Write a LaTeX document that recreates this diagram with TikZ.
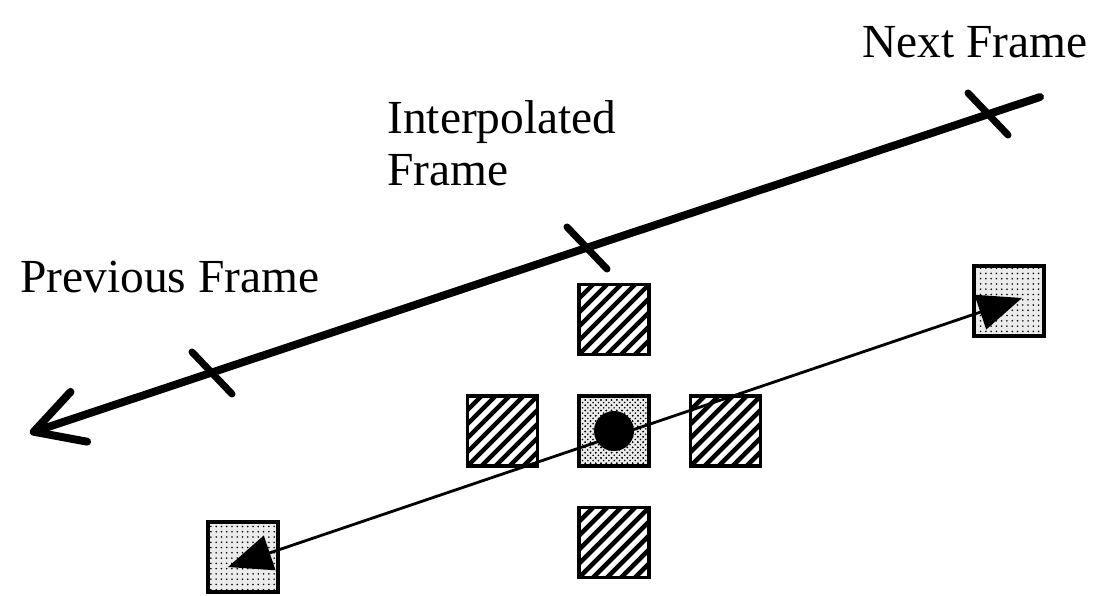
\documentclass[tikz,border=0pt]{standalone}
\usepackage{fontspec}
\setmainfont{Liberation Serif}
\usetikzlibrary{arrows.meta, positioning, patterns}

\begin{document}
\begin{tikzpicture}[
    % ── Global ──
    x=0.2mm, y=-0.2mm,
    node distance=0.76cm,
    % ── Node Styles ──
    caption/.style={
        font=\fontsize{27}{29.5}\selectfont, inner sep=0pt
    },
    hatchbox/.style={
        rectangle, draw=black, line width=2pt,
        minimum size=1.4cm, inner sep=0pt, fill=white,
        path picture={
            \foreach \s in {-70,-56,...,70}
                \draw[line width=2.6pt]
                    ([xshift=\s*0.2mm]path picture bounding box.south west) -- ++(70,-70);
        }
    },
    dotbox/.style={
        rectangle, draw=black, line width=2pt,
        minimum size=1.4cm, inner sep=0pt,
        fill=black!8, postaction={pattern=dots}
    },
    centerbox/.style={
        dotbox, postaction={pattern=crosshatch dots}
    },
    blob/.style={circle, fill=black, minimum size=0.8cm, inner sep=0pt},
    % ── Line Styles ──
    timeline/.style={-{Straight Barb[length=0.95cm, width=1.05cm, round]},
        line width=4.5pt, line cap=round},
    tickmark/.style={line width=4pt, line cap=round},
    motion/.style={{Triangle[length=0.88cm, width=0.72cm]}-{Triangle[length=0.88cm, width=0.72cm]},
        line width=1.6pt},
]

\useasboundingbox (0,0) rectangle (1096,595);

% ════════════════════════════════════════════════════════
%  TIME AXIS: previous → interpolated → next
% ════════════════════════════════════════════════════════

\coordinate (nextend) at (1040,97);
\coordinate (prevend) at (30,433);
\coordinate (tprev)   at (212,373);
\coordinate (tmid)    at (587,248);
\coordinate (tnext)   at (988,114);

\draw [timeline] (nextend) -- (prevend);
\foreach \t in {tprev, tmid, tnext}
    \draw [tickmark] ([shift={(-20,-21)}]\t) -- ([shift={(20,21)}]\t);

\node (nextlbl)  [caption, anchor=base west] at (862,57) {Next Frame};
\node (interlbl) [caption, anchor=north west, align=left] at (387,100)
    {Interpolated\\Frame};
\node (prevlbl)  [caption, anchor=base west] at (20,292) {Previous Frame};

% ════════════════════════════════════════════════════════
%  BLOCKS: centre + neighbours, and the two matched blocks
% ════════════════════════════════════════════════════════

\node (C) [centerbox] at (614,431) {};
\node (T) [hatchbox, above=of C] {};
\node (L) [hatchbox, left=of C]  {};
\node (R) [hatchbox, right=of C] {};
\node (B) [hatchbox, below=of C] {};

\node (P) [dotbox] at (243,557)  {};
\node (Q) [dotbox] at (1009,301) {};

\node (dot) [blob] at (C) {};

% Motion vector through the centre block
\coordinate (ptip) at ([shift={(-15,10)}]P.center);
\coordinate (qtip) at ([shift={(13,-3)}]Q.center);
\draw [motion] (ptip) -- (qtip);

\end{tikzpicture}
\end{document}
